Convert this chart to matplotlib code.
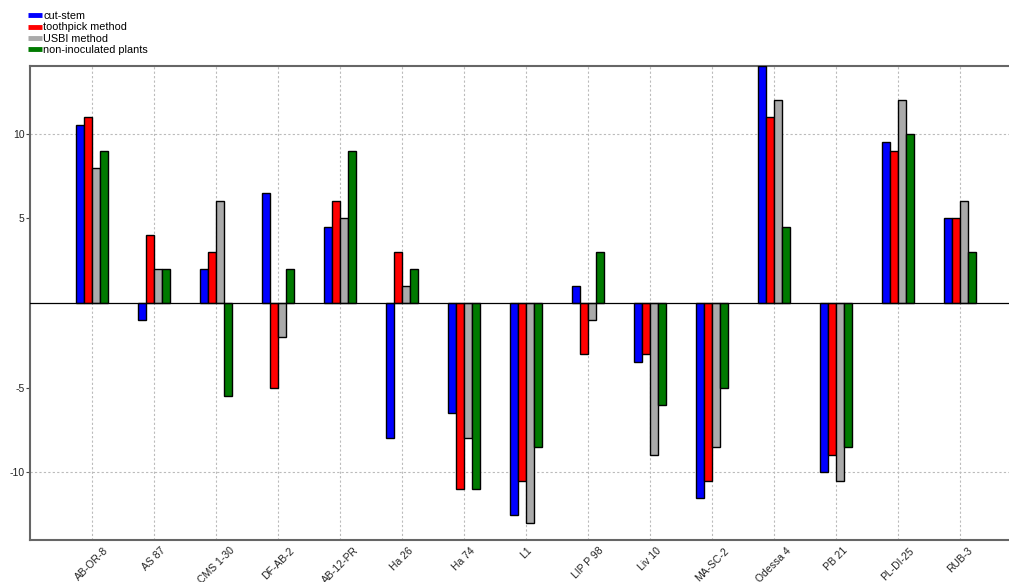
import numpy as np
import matplotlib
matplotlib.use("Agg")
import matplotlib.pyplot as plt
from matplotlib.lines import Line2D

plt.rcParams['font.family'] = ['Liberation Sans', 'DejaVu Sans']

genotypes = ["AB-OR-8", "AS 87", "CMS 1-30", "DF-AB-2", "AB-12-PR", "Ha 26", "Ha 74",
             "L1", "LIP P 98", "Liv 10", "MA-SC-2", "Odessa 4", "PB 21", "PL-DI-25", "RUB-3"]

cut_stem = [10.5, -1.0, 2.0, 6.5, 4.5, -8.0, -6.5, -12.5, 1.0, -3.5, -11.5, 14.0, -10.0, 9.5, 5.0]
toothpick = [11.0, 4.0, 3.0, -5.0, 6.0, 3.0, -11.0, -10.5, -3.0, -3.0, -10.5, 11.0, -9.0, 9.0, 5.0]
usbi = [8.0, 2.0, 6.0, -2.0, 5.0, 1.0, -8.0, -13.0, -1.0, -9.0, -8.5, 12.0, -10.5, 12.0, 6.0]
non_inoculated = [9.0, 2.0, -5.5, 2.0, 9.0, 2.0, -11.0, -8.5, 3.0, -6.0, -5.0, 4.5, -8.5, 10.0, 3.0]

series = [
    ("cut-stem", cut_stem, "#0000ff"),
    ("toothpick method", toothpick, "#ff0000"),
    ("USBI method", usbi, "#aaaaaa"),
    ("non-inoculated plants", non_inoculated, "#007a00"),
]

W, H = 1009, 582
fig = plt.figure(figsize=(W / 100, H / 100), dpi=100)
ax = fig.add_axes([30 / W, (H - 540) / H, 1 - 30 / W, (540 - 66) / H])

x = np.arange(len(genotypes))
bw = 0.129
offsets = np.array([-1.5, -0.5, 0.5, 1.5]) * bw

for (name, vals, col), off in zip(series, offsets):
    ax.bar(x + off, vals, width=bw, color=col, edgecolor="black", linewidth=1.0, zorder=3)

ax.set_xlim(-1, (W - 92) / 62)
ax.set_ylim(-14, 14)

# grid: dotted verticals at each genotype, dashed horizontals at +/-10
for xi in x:
    ax.axvline(xi, color="#bbbbbb", linestyle=(0, (2, 2)), linewidth=0.8, zorder=1)
for yv in (-10, 10):
    ax.axhline(yv, color="#bbbbbb", linestyle=(0, (2, 2)), linewidth=0.8, zorder=1)
ax.axhline(0, color="black", linewidth=0.9, zorder=4)

ax.set_yticks([-10, -5, 5, 10])
ax.set_yticklabels(["-10", "-5", "5", "10"])
ax.set_xticks(x)
ax.set_xticklabels(genotypes, rotation=45, ha="center", va="top")
ax.tick_params(axis="y", length=3, width=0.8, color="#444444", labelsize=7.5, pad=1, labelcolor="#222222")
ax.tick_params(axis="x", length=0, labelsize=7.5, pad=4, labelcolor="#222222")

for side in ("left", "bottom", "top"):
    ax.spines[side].set_color("#666666")
    ax.spines[side].set_linewidth(1.5)
ax.spines["right"].set_visible(False)

handles = [Line2D([0], [0], color=col, linewidth=3.5, solid_capstyle="butt") for _, _, col in series]
labels = [name for name, _, _ in series]
fig.legend(handles, labels, loc="upper left", bbox_to_anchor=(28 / W, 1 - 11 / H),
           frameon=False, fontsize=7.8, handlelength=1.3, handletextpad=0.1,
           labelspacing=0.12, borderpad=0, borderaxespad=0)

fig.savefig("out.png", dpi=100)
